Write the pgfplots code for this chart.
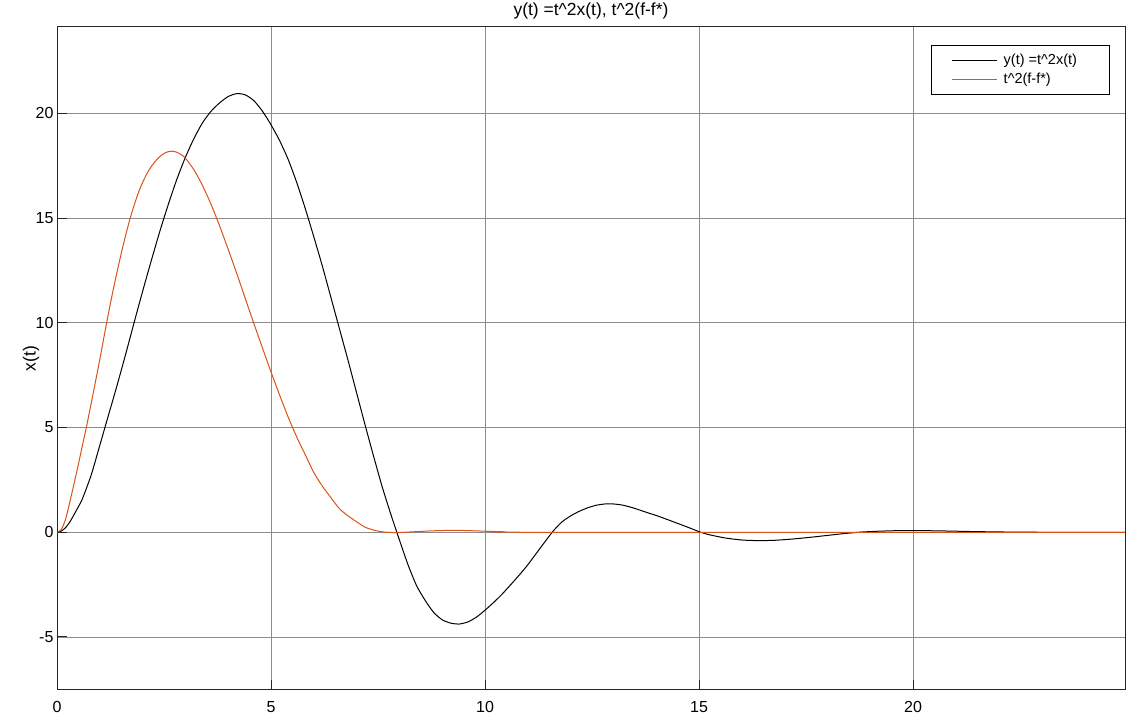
\documentclass[border=0pt]{standalone}
\usepackage{fontspec}
\setmainfont{Liberation Sans}
\usepackage{pgfplots}
\pgfplotsset{compat=1.18}
\definecolor{mlorange}{rgb}{0.85,0.325,0.098}
\begin{document}
\begin{tikzpicture}
\begin{axis}[
 scale only axis, width=1068pt, height=663pt,
 xmin=0, xmax=24.95, ymin=-7.53, ymax=24.12,
 xtick={0,5,10,15,20}, ytick={-5,0,5,10,15,20},
 xtick pos=bottom, ytick pos=left, tick align=inside,
 major tick length=10pt,
 grid=major, major grid style={black!45, line width=0.8pt},
 axis line style={black!85, line width=1pt},
 tick style={black!85, line width=1pt},
 ticklabel style={font=\fontsize{16}{19}\selectfont},
 /pgf/number format/assume math mode=true,
 xticklabel style={yshift=-7.5pt},
 title={y(t) =t\textasciicircum 2x(t), t\textasciicircum 2(f-f*)},
 title style={font=\fontsize{17.5}{21}\selectfont, at={(0.5,1)}, anchor=base, yshift=5pt},
 ylabel={x(t)},
 ylabel style={font=\fontsize{17.5}{21}\selectfont, at={(axis description cs:-0.0243,0.5)}, anchor=center},
 legend style={at={(1,1)}, anchor=north east, xshift=-15pt, yshift=-18pt,
   draw=black, line width=1pt, fill=white,
   font=\fontsize{14.5}{17}\selectfont,
   inner xsep=20.5pt, inner ysep=5.5pt,
   nodes={inner xsep=2pt, inner ysep=3.4pt}, row sep=0pt},
 legend cell align=left,
 legend image code/.code={\draw[#1, line width=1pt] (0pt,0pt) -- (45pt,0pt); \path (49pt,0pt);},
]
\addplot[black, line width=1pt, smooth, tension=0.4] table {
0 0
0.1 0.055
0.2 0.22
0.3 0.49
0.4 0.85
0.5 1.22
0.6 1.63
0.8 2.74
1.0 4.15
1.2 5.57
1.4 6.99
1.6 8.47
1.8 10.0
2.0 11.5
2.2 12.95
2.4 14.35
2.6 15.65
2.8 16.85
3.0 17.9
3.2 18.8
3.4 19.55
3.6 20.1
3.8 20.5
4.0 20.8
4.2 20.94
4.4 20.88
4.6 20.6
4.8 20.1
5.0 19.45
5.2 18.7
5.4 17.8
5.6 16.7
5.8 15.45
6.0 14.1
6.2 12.7
6.4 11.2
6.6 9.7
6.8 8.2
7.0 6.65
7.2 5.1
7.4 3.6
7.6 2.15
7.8 0.85
8.0 -0.37
8.2 -1.55
8.4 -2.55
8.6 -3.25
8.8 -3.83
9.0 -4.18
9.2 -4.34
9.4 -4.38
9.6 -4.28
9.8 -4.05
10.0 -3.72
10.2 -3.35
10.4 -2.95
10.6 -2.5
10.8 -2.04
11.0 -1.55
11.2 -1.0
11.4 -0.45
11.6 0.08
11.8 0.5
12.0 0.78
12.2 1.0
12.4 1.17
12.6 1.29
12.8 1.35
13.0 1.35
13.2 1.3
13.4 1.2
13.6 1.07
13.8 0.93
14.0 0.8
14.4 0.5
14.8 0.19
15.0 0.03
15.2 -0.1
15.6 -0.27
16.0 -0.37
16.4 -0.40
16.8 -0.38
17.2 -0.32
17.6 -0.24
18.0 -0.15
18.4 -0.06
18.8 0.01
19.2 0.05
19.6 0.075
20.0 0.08
20.5 0.07
21.0 0.05
21.5 0.03
22.0 0.015
22.5 0.005
23.0 0
24.95 0
};
\addlegendentry{y(t) =t\textasciicircum 2x(t)\hspace*{10pt}}
\addplot[mlorange, line width=1pt, smooth, tension=0.4] table {
0 0
0.1 0.12
0.2 0.62
0.3 1.45
0.4 2.33
0.5 3.25
0.6 4.2
0.7 5.15
0.8 6.17
0.9 7.2
1.0 8.25
1.1 9.35
1.2 10.43
1.3 11.45
1.4 12.4
1.5 13.3
1.6 14.15
1.7 14.92
1.8 15.6
1.9 16.2
2.0 16.7
2.1 17.12
2.2 17.45
2.3 17.72
2.4 17.93
2.5 18.08
2.6 18.17
2.7 18.19
2.8 18.14
2.9 18.03
3.0 17.86
3.2 17.3
3.4 16.55
3.6 15.65
3.8 14.62
4.0 13.5
4.2 12.35
4.4 11.15
4.6 9.96
4.8 8.8
5.0 7.65
5.2 6.55
5.4 5.5
5.6 4.55
5.8 3.7
6.0 2.85
6.2 2.2
6.4 1.65
6.6 1.12
6.8 0.78
7.0 0.5
7.2 0.24
7.4 0.1
7.6 0.02
7.8 -0.01
8.0 -0.01
8.4 0.03
8.8 0.07
9.2 0.09
9.6 0.08
10.0 0.05
10.5 0.02
11.0 0.0
24.95 0
};
\addlegendentry{t\textasciicircum 2(f-f*)}
\end{axis}
\pgfresetboundingbox
\path ([xshift=-57pt,yshift=-37pt]current axis.south west) rectangle ([xshift=12pt,yshift=27pt]current axis.north east);
\end{tikzpicture}
\end{document}
